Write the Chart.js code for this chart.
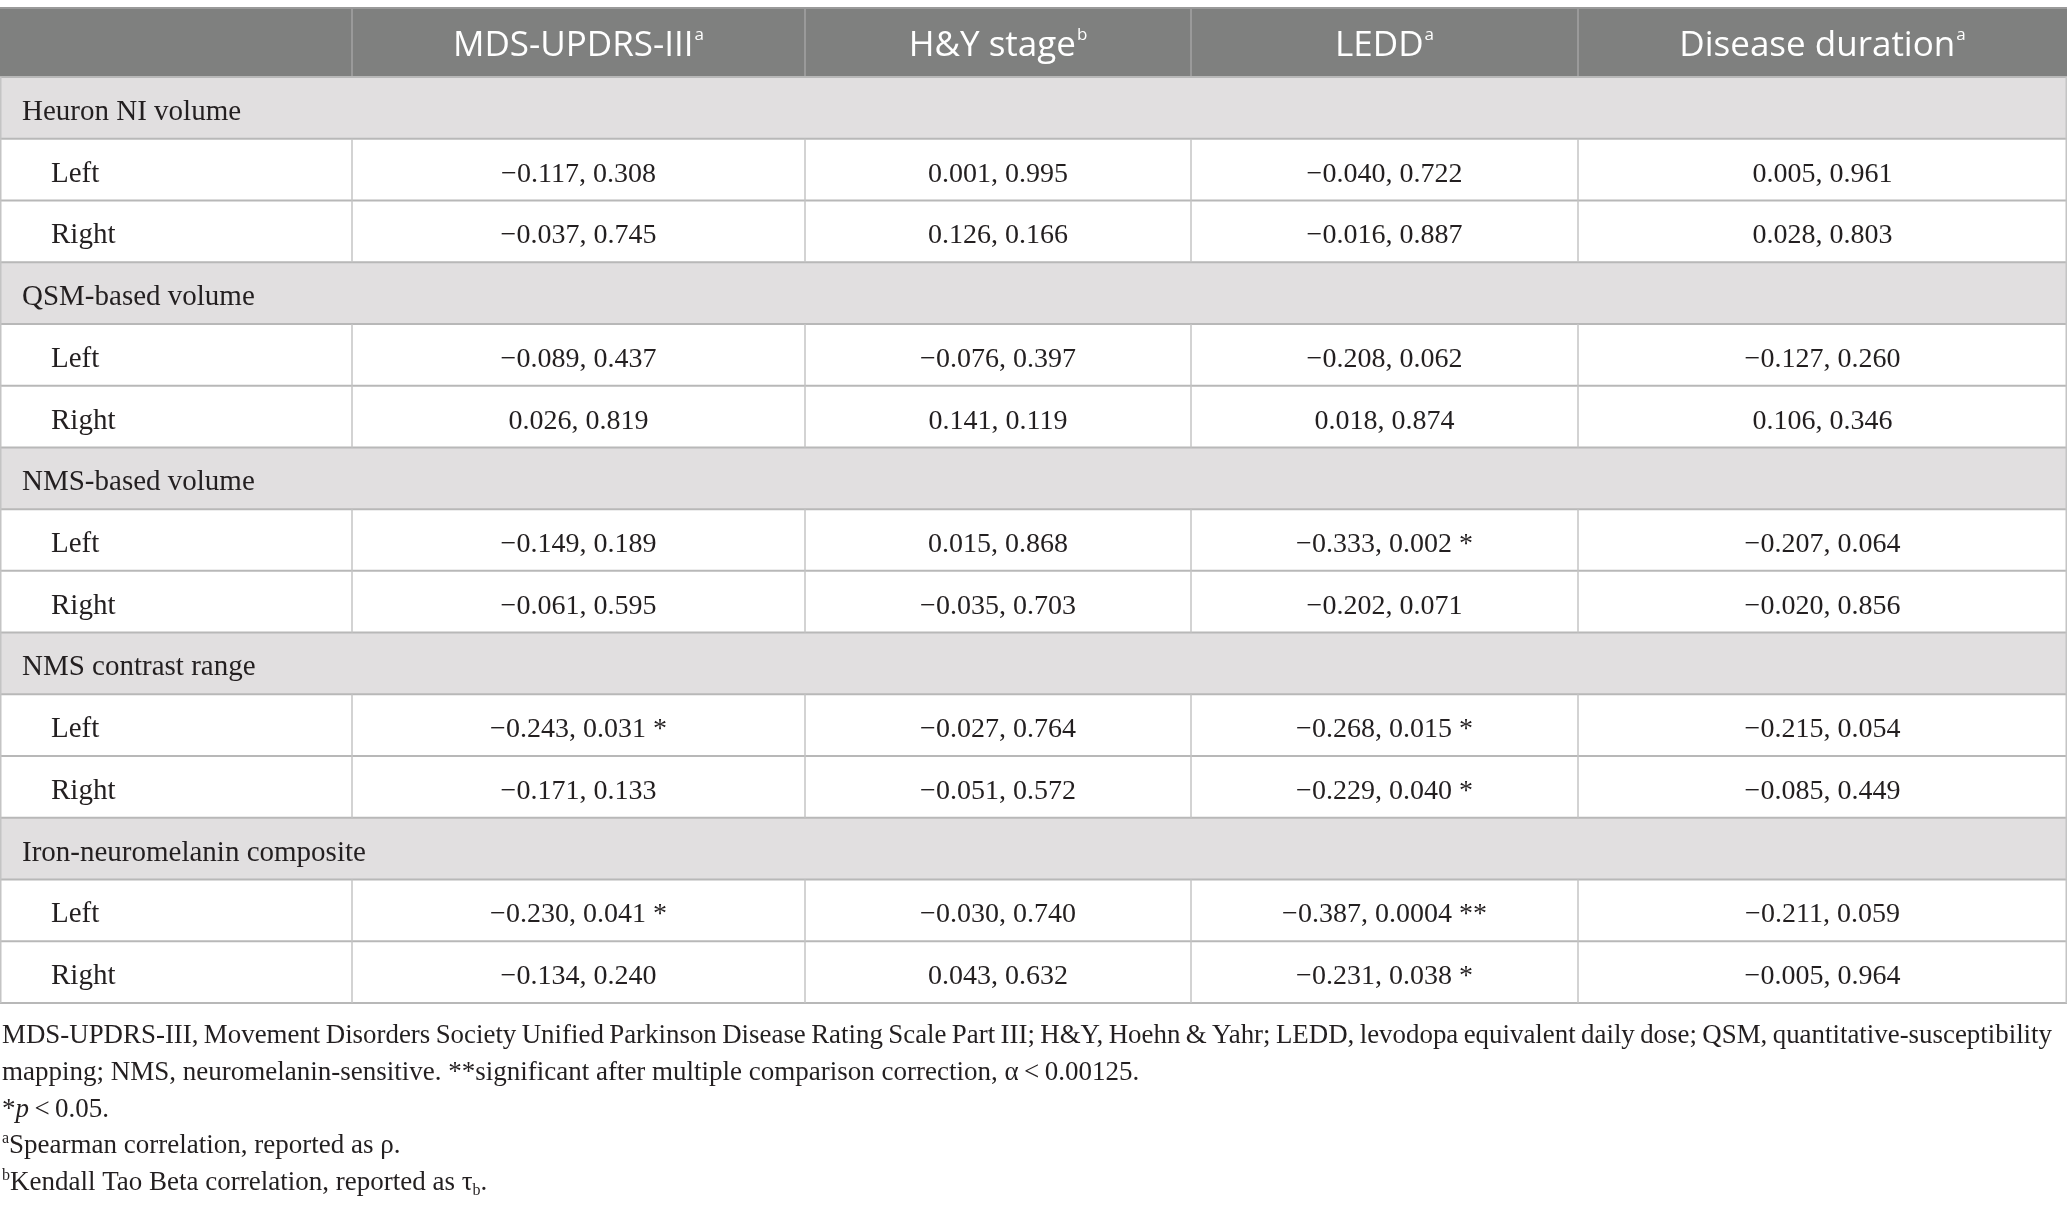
<!DOCTYPE html>
<html lang="en">
<head>
  <meta charset="UTF-8" />
  <title>Correlations of SN measures with clinical scores</title>
  <script src="https://cdn.jsdelivr.net/npm/chart.js"></script>
  <style>
    html, body {
      margin: 0;
      padding: 0;
      background: #ffffff;
    }
    #wrap {
      width: 2067px;
      height: 1212px;
    }
  </style>
</head>
<body>
  <div id="wrap"><canvas id="table" width="2067" height="1212"></canvas></div>

  <script>
    // Row groups and column headings
    const sections = ["Heuron NI volume", "QSM-based volume", "NMS-based volume", "NMS contrast range", "Iron-neuromelanin composite"];
    const sides = ["Left", "Right"];
    const columns = ["MDS-UPDRS-III", "H&Y stage", "LEDD", "Disease duration"];
    const columnNotes = ["a", "b", "a", "a"];

    // Correlation coefficient and p value, one entry per Left/Right row (top to bottom)
    const mdsRho = [-0.117, -0.037, -0.089, 0.026, -0.149, -0.061, -0.243, -0.171, -0.230, -0.134];
    const mdsP = [0.308, 0.745, 0.437, 0.819, 0.189, 0.595, 0.031, 0.133, 0.041, 0.240];
    const hyRho = [0.001, 0.126, -0.076, 0.141, 0.015, -0.035, -0.027, -0.051, -0.030, 0.043];
    const hyP = [0.995, 0.166, 0.397, 0.119, 0.868, 0.703, 0.764, 0.572, 0.740, 0.632];
    const leddRho = [-0.040, -0.016, -0.208, 0.018, -0.333, -0.202, -0.268, -0.229, -0.387, -0.231];
    const leddP = [0.722, 0.887, 0.062, 0.874, 0.002, 0.071, 0.015, 0.040, 0.0004, 0.038];
    const durRho = [0.005, 0.028, -0.127, 0.106, -0.207, -0.020, -0.215, -0.085, -0.211, -0.005];
    const durP = [0.961, 0.803, 0.260, 0.346, 0.064, 0.856, 0.054, 0.449, 0.059, 0.964];

    // Footnotes (runs: plain, italic, superscript, subscript)
    const footnotes = [
      [{ t: "MDS-UPDRS-III, Movement Disorders Society Unified Parkinson Disease Rating Scale Part III; H&Y, Hoehn & Yahr; LEDD, levodopa equivalent daily dose; QSM, quantitative-susceptibility" }],
      [{ t: "mapping; NMS, neuromelanin-sensitive. **significant after multiple comparison correction, \u03b1\u2009<\u20090.00125." }],
      [{ t: "*" }, { t: "p", k: "i" }, { t: "\u2009<\u20090.05." }],
      [{ t: "a", k: "sup" }, { t: "Spearman correlation, reported as \u03c1." }],
      [{ t: "b", k: "sup" }, { t: "Kendall Tao Beta correlation, reported as \u03c4" }, { t: "b", k: "sub" }, { t: "." }]
    ];

    const rhoCols = [mdsRho, hyRho, leddRho, durRho];
    const pCols = [mdsP, hyP, leddP, durP];

    // Layout
    const W = 2067;
    const colEdges = [0, 352, 805, 1191, 1578, 2067];
    const headTop = 8;
    const serif = "'Liberation Serif', 'Times New Roman', serif";
    const sans = "'Open Sans', 'Noto Sans', sans-serif";
    const ink = "#231f20";

    // Build the row list
    const rowLabels = [];
    const rowIsSection = [];
    sections.forEach(s => {
      rowLabels.push(s);
      rowIsSection.push(true);
      sides.forEach(side => {
        rowLabels.push(side);
        rowIsSection.push(false);
      });
    });

    function fmtRho(v) {
      return (v < 0 ? "\u2212" : "") + Math.abs(v).toFixed(3);
    }
    function fmtP(p) {
      const s = p < 0.001 ? p.toFixed(4) : p.toFixed(3);
      const star = p < 0.00125 ? " **" : (p < 0.05 ? " *" : "");
      return s + star;
    }

    function drawRuns(ctx, runs, x0, base, size, target) {
      const fontFor = r => {
        if (r.k === "i") return "italic " + size + "px " + serif;
        if (r.k === "sup" || r.k === "sub") return Math.round(size * 0.6) + "px " + serif;
        return size + "px " + serif;
      };
      // justified line: spread the words to the target width
      if (target && runs.length === 1) {
        const words = runs[0].t.split(" ");
        ctx.font = fontFor(runs[0]);
        const ww = words.map(w => ctx.measureText(w).width);
        const sum = ww.reduce((a, b) => a + b, 0);
        let gap = (target - sum) / (words.length - 1);
        let sx = 1;
        const minGap = size * 0.2;
        if (gap < minGap) {
          gap = minGap;
          sx = target / (sum + gap * (words.length - 1));
        }
        ctx.save();
        ctx.translate(x0, base);
        ctx.scale(sx, 1);
        let x = 0;
        words.forEach((w, i) => {
          ctx.fillText(w, x, 0);
          x += ww[i] + gap;
        });
        ctx.restore();
        return;
      }
      let x = x0;
      runs.forEach(r => {
        ctx.font = fontFor(r);
        let dy = 0;
        if (r.k === "sup") dy = -size * 0.38;
        if (r.k === "sub") dy = size * 0.2;
        ctx.fillText(r.t, x, base + dy);
        x += ctx.measureText(r.t).width;
      });
    }

    const tablePlugin = {
      id: "tableCells",
      afterDatasetsDraw(chart) {
        const { ctx, chartArea, scales: { x, y } } = chart;
        const band = y.getPixelForValue(1) - y.getPixelForValue(0);
        const rowTop = i => y.getPixelForValue(i) - band / 2;
        const left = x.getPixelForValue(0);
        const right = x.getPixelForValue(W);
        const headBottom = chartArea.top;
        const tableBottom = chartArea.bottom;

        ctx.save();

        // header band
        ctx.fillStyle = "#7f807f";
        ctx.fillRect(left, headTop, right - left, headBottom - headTop);
        ctx.strokeStyle = "#a3a3a3";
        ctx.lineWidth = 1.5;
        colEdges.slice(1, -1).forEach(e => {
          const px = x.getPixelForValue(e);
          ctx.beginPath();
          ctx.moveTo(px, headTop);
          ctx.lineTo(px, headBottom);
          ctx.stroke();
        });
        ctx.strokeStyle = "#9a9a9a";
        ctx.lineWidth = 2;
        ctx.beginPath();
        ctx.moveTo(left, headTop);
        ctx.lineTo(right, headTop);
        ctx.stroke();

        // header titles with footnote marks
        ctx.fillStyle = "#ffffff";
        ctx.textBaseline = "alphabetic";
        columns.forEach((c, j) => {
          const cx = (x.getPixelForValue(colEdges[j + 1]) + x.getPixelForValue(colEdges[j + 2])) / 2;
          ctx.font = "35px " + sans;
          const w1 = ctx.measureText(c).width;
          ctx.font = "17px " + sans;
          const w2 = ctx.measureText(columnNotes[j]).width;
          const x0 = cx - (w1 + w2 + 1) / 2;
          ctx.font = "35px " + sans;
          ctx.fillText(c, x0, headTop + 48);
          ctx.font = "17px " + sans;
          ctx.fillText(columnNotes[j], x0 + w1 + 1, headTop + 32);
        });

        // grid lines: horizontal
        ctx.strokeStyle = "#b8b8b8";
        ctx.lineWidth = 2;
        for (let i = 0; i <= rowLabels.length; i++) {
          const py = i < rowLabels.length ? rowTop(i) : tableBottom;
          ctx.beginPath();
          ctx.moveTo(left, py);
          ctx.lineTo(right, py);
          ctx.stroke();
        }
        // vertical lines on data rows
        ctx.strokeStyle = "#c4c4c4";
        ctx.lineWidth = 1.5;
        rowLabels.forEach((l, i) => {
          const t = rowTop(i);
          const edges = rowIsSection[i] ? [colEdges[0], colEdges[colEdges.length - 1]] : colEdges;
          edges.forEach(e => {
            let px = x.getPixelForValue(e);
            px = Math.min(Math.max(px, left + 0.75), right - 0.75);
            ctx.beginPath();
            ctx.moveTo(px, t);
            ctx.lineTo(px, t + band);
            ctx.stroke();
          });
        });

        // row labels and cells
        ctx.fillStyle = ink;
        let k = 0;
        rowLabels.forEach((l, i) => {
          const base = y.getPixelForValue(i) + 12;
          ctx.font = "29px " + serif;
          ctx.textAlign = "left";
          if (rowIsSection[i]) {
            ctx.fillText(l, left + 22, base);
            return;
          }
          ctx.fillText(l, left + 51, base);
          ctx.font = "28px " + serif;
          ctx.textAlign = "center";
          for (let j = 0; j < columns.length; j++) {
            const cx = (x.getPixelForValue(colEdges[j + 1]) + x.getPixelForValue(colEdges[j + 2])) / 2;
            ctx.fillText(fmtRho(rhoCols[j][k]) + ", " + fmtP(pCols[j][k]), cx, base);
          }
          k++;
        });

        // footnotes below the table
        ctx.textAlign = "left";
        const noteBase = [1043, 1080, 1117, 1153, 1190];
        footnotes.forEach((runs, n) => {
          drawRuns(ctx, runs, left + 2, noteBase[n], 27, n === 0 ? 2050 : 0);
        });

        ctx.restore();
      }
    };

    new Chart(document.getElementById("table"), {
      type: "bar",
      data: {
        labels: rowLabels,
        datasets: [{
          label: "section rows",
          data: rowLabels.map((l, i) => rowIsSection[i] ? [0, W] : null),
          backgroundColor: "#e1dfe0",
          borderWidth: 0,
          barPercentage: 1,
          categoryPercentage: 1
        }]
      },
      options: {
        indexAxis: "y",
        responsive: false,
        animation: false,
        layout: { padding: { top: 77, bottom: 209, left: 0, right: 0 } },
        scales: {
          x: { type: "linear", min: 0, max: W, display: false },
          y: { type: "category", offset: true, display: false }
        },
        plugins: {
          legend: { display: false },
          tooltip: { enabled: false }
        }
      },
      plugins: [tablePlugin]
    });
  </script>
</body>
</html>
